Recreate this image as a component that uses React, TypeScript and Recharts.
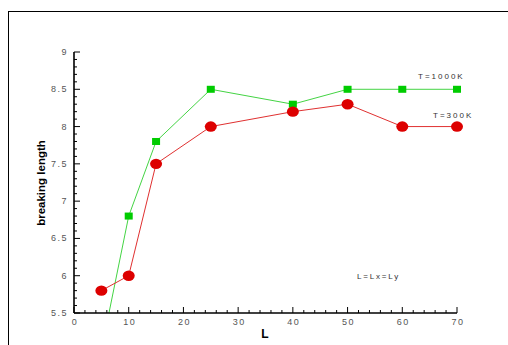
import React from 'react';
import { LineChart, Line, XAxis, YAxis } from 'recharts';

// ---- data ----
const L_VALUES = [5, 10, 15, 25, 40, 50, 60, 70];
const T300K = [5.8, 6.0, 7.5, 8.0, 8.2, 8.3, 8.0, 8.0];
const T1000K = [5.0, 6.8, 7.8, 8.5, 8.3, 8.5, 8.5, 8.5];

const X_MAJOR_TICKS = [0, 10, 20, 30, 40, 50, 60, 70];
const Y_MAJOR_TICKS = [5.5, 6, 6.5, 7, 7.5, 8, 8.5, 9];
const X_MINOR_STEP = 2;
const Y_MINOR_STEP = 0.1;

const X_DOMAIN: [number, number] = [0, 70];
const Y_DOMAIN: [number, number] = [5.5, 9];

// ---- derived ----
const buildTicks = (majors: number[], step: number) => {
  const out: number[] = [];
  const lo = majors[0];
  const hi = majors[majors.length - 1];
  const n = Math.round((hi - lo) / step);
  for (let i = 0; i <= n; i++) out.push(Number((lo + i * step).toFixed(4)));
  return out;
};
const xTicks = buildTicks(X_MAJOR_TICKS, X_MINOR_STEP);
const yTicks = buildTicks(Y_MAJOR_TICKS, Y_MINOR_STEP);
const isMajor = (v: number, majors: number[]) => majors.some((m) => Math.abs(m - v) < 1e-6);

const inRange = (v: number) => (v >= Y_DOMAIN[0] && v <= Y_DOMAIN[1] ? v : null);

const data = L_VALUES.map((l, i) => ({
  L: l,
  T300K: T300K[i],
  T1000K: T1000K[i],
  T300Kdot: inRange(T300K[i]),
  T1000Kdot: inRange(T1000K[i]),
}));

const tickFont = {
  fontFamily: 'Arial, "Liberation Sans", sans-serif',
  fontSize: 9,
  fill: '#555',
  letterSpacing: 1.5,
};

const XTick = (props: any) => {
  const { x, y, payload } = props;
  const major = isMajor(payload.value, X_MAJOR_TICKS);
  return (
    <g>
      <line x1={x} y1={y} x2={x} y2={y - (major ? 6 : 3)} stroke="#000" strokeWidth={1} />
      {major && (
        <text x={x + 1} y={y + 12} textAnchor="middle" {...tickFont}>
          {payload.value}
        </text>
      )}
    </g>
  );
};

const YTick = (props: any) => {
  const { x, y, payload } = props;
  const major = isMajor(payload.value, Y_MAJOR_TICKS);
  return (
    <g>
      <line x1={x} y1={y} x2={x + (major ? 6 : 3)} y2={y} stroke="#000" strokeWidth={1} />
      {major && (
        <text x={x - 6} y={y + 3} textAnchor="end" {...tickFont}>
          {payload.value}
        </text>
      )}
    </g>
  );
};

const RedDot = (props: any) => {
  const { cx, cy, index } = props;
  if (cx == null || cy == null) return <g key={`r${index}`} />;
  return <ellipse key={`r${index}`} cx={cx} cy={cy} rx={6} ry={5.2} fill="#dd0000" />;
};

const GreenDot = (props: any) => {
  const { cx, cy, index } = props;
  if (cx == null || cy == null) return <g key={`g${index}`} />;
  return <rect key={`g${index}`} x={cx - 4} y={cy - 3.5} width={8} height={7} fill="#00cc00" />;
};

const annoFont = {
  fontFamily: 'Arial, "Liberation Sans", sans-serif',
  fontSize: 8,
  fill: '#333',
};

export default function App() {
  return (
    <div style={{ position: 'absolute', left: 0, top: 0, width: 508, height: 345, background: '#fff' }}>
      <div
        style={{
          position: 'absolute',
          left: 8,
          top: 11,
          width: 500,
          height: 334,
          borderTop: '1px solid #000',
          borderLeft: '1px solid #000',
          boxSizing: 'border-box',
        }}
      />
      <div style={{ position: 'absolute', left: 0, top: 0 }}>
        <LineChart width={508} height={345} data={data} margin={{ top: 52, right: 51, bottom: 0, left: 0 }}>
          <XAxis
            dataKey="L"
            type="number"
            domain={X_DOMAIN}
            ticks={xTicks}
            interval={0}
            tickLine={false}
            tickSize={0}
            tickMargin={0}
            height={32}
            axisLine={{ stroke: '#000', strokeWidth: 1.6 }}
            tick={<XTick />}
          />
          <YAxis yAxisId="dots" type="number" domain={Y_DOMAIN} hide width={0} />
          <YAxis
            yAxisId="main"
            type="number"
            domain={Y_DOMAIN}
            allowDataOverflow
            ticks={yTicks}
            interval={0}
            tickLine={false}
            tickSize={0}
            tickMargin={0}
            width={74}
            axisLine={{ stroke: '#000', strokeWidth: 1.6 }}
            tick={<YTick />}
          />
          <Line
            yAxisId="main"
            type="linear"
            dataKey="T1000K"
            stroke="#44d444"
            strokeWidth={1}
            dot={false}
            isAnimationActive={false}
          />
          <Line
            yAxisId="main"
            type="linear"
            dataKey="T300K"
            stroke="#e03030"
            strokeWidth={1}
            dot={false}
            isAnimationActive={false}
          />
          <Line
            yAxisId="dots"
            type="linear"
            dataKey="T1000Kdot"
            stroke="none"
            dot={GreenDot}
            activeDot={false}
            isAnimationActive={false}
          />
          <Line
            yAxisId="dots"
            type="linear"
            dataKey="T300Kdot"
            stroke="none"
            dot={RedDot}
            activeDot={false}
            isAnimationActive={false}
          />
        </LineChart>
      </div>
      <svg
        width={508}
        height={345}
        style={{ position: 'absolute', left: 0, top: 0, pointerEvents: 'none' }}
      >
        <text
          x={0}
          y={0}
          transform="translate(45,183) rotate(-90)"
          textAnchor="middle"
          fontFamily='Arial, "Liberation Sans", sans-serif'
          fontWeight="bold"
          fontSize={11.5}
          fill="#000"
        >
          breaking length
        </text>
        <text
          x={265}
          y={338}
          textAnchor="middle"
          fontFamily='Arial, "Liberation Sans", sans-serif'
          fontWeight="bold"
          fontSize={12}
          fill="#000"
        >
          L
        </text>
        <text x={418} y={79} {...annoFont} letterSpacing={2}>
          T=1000K
        </text>
        <text x={433} y={118} {...annoFont} letterSpacing={2}>
          T=300K
        </text>
        <text x={357} y={279} {...annoFont} letterSpacing={1.8}>
          L=Lx=Ly
        </text>
      </svg>
    </div>
  );
}
